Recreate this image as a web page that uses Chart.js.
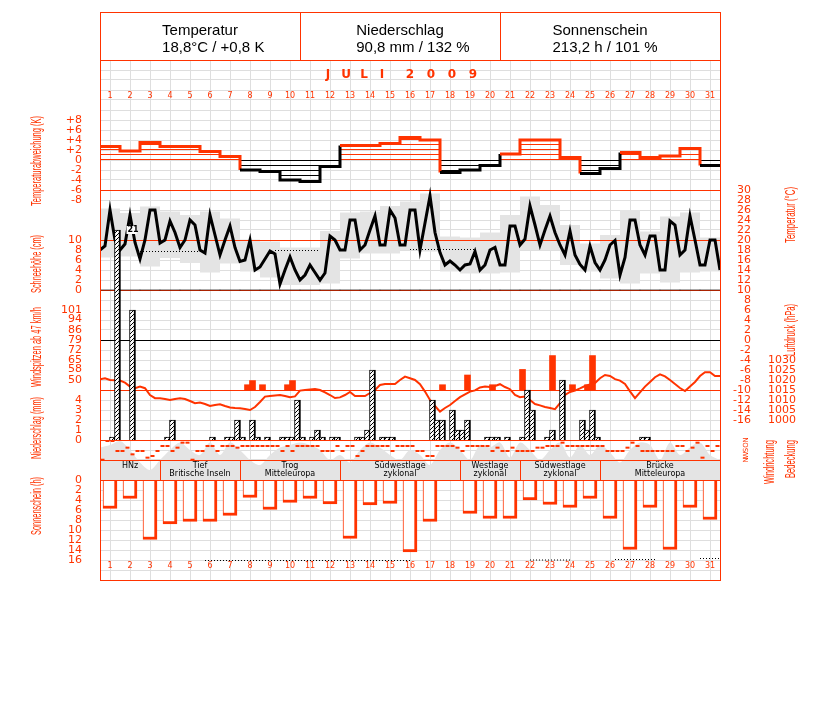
<!DOCTYPE html>
<html lang="de">
<head>
<meta charset="utf-8">
<title>Juli 2009</title>
<script src="https://cdn.jsdelivr.net/npm/chart.js@4.4.1/dist/chart.umd.min.js"></script>
<style>
  html, body { margin: 0; padding: 0; background: #fff; }
  canvas { display: block; }
</style>
</head>
<body>
<canvas id="chart" width="827" height="702"></canvas>
<script>
// Tage im Juli 2009
const days = [1, 2, 3, 4, 5, 6, 7, 8, 9, 10, 11, 12, 13, 14, 15, 16, 17, 18, 19, 20,
              21, 22, 23, 24, 25, 26, 27, 28, 29, 30, 31];

// Tagesabweichung der Temperatur (K)
const devK = [2.7, 1.8, 3.5, 2.7, 2.7, 1.7, 0.7, -2.0, -2.3, -4.0, -4.3, -1.3, 2.9, 2.9, 3.3, 4.5,
              4.0, -2.5, -2.0, -1.1, 1.2, 4.0, 4.0, 0.5, -2.7, -1.7, 1.5, 0.5, 0.8, 2.3, -1.1];

// Tagesmaximum / -minimum (grau hinterlegt)
const tMax = [26.3, 25.4, 26.7, 25.7, 25.0, 25.7, 24.3, 20.1, 19.7, 18.5, 18.5, 21.8, 25.5, 25.7, 26.8, 27.7,
              29.3, 20.7, 20.5, 21.5, 25.0, 28.7, 27.0, 23.0, 19.3, 21.0, 26.0, 21.7, 24.7, 25.5, 20.5];
const tMin = [16.5, 16.7, 14.7, 16.4, 15.4, 13.5, 15.3, 13.7, 12.5, 11.0, 11.0, 11.3, 16.3, 17.3, 17.3, 18.0,
              17.7, 13.7, 13.3, 13.3, 13.5, 18.0, 18.0, 15.0, 13.7, 12.3, 11.3, 13.3, 11.5, 13.5, 13.7];

// Temperatur alle 6 h (125 Termine, 1.7. 0 Uhr bis 1.8. 0 Uhr)
const tempC = [
  18, 18.8, 26, 20, 18, 19.2, 25, 19.5, 16.2, 20,
  26, 26, 19.4, 20, 23.8, 21.5, 18.5, 20, 24, 23,
  18, 17.4, 25, 21, 17, 20, 22.8, 18.5, 15.7, 16,
  20, 14, 14.6, 16.2, 17.8, 17.2, 11.2, 14, 16.6, 14,
  12, 13, 15, 13.5, 12, 13.4, 20.8, 20, 18, 18,
  24, 24, 18, 19, 22, 24.8, 19, 19, 26, 24.4,
  19, 19, 26, 26, 18, 23.4, 28.8, 21.5, 17.5, 15,
  15.8, 15, 14, 15, 15.2, 17.7, 14, 15, 18, 18.5,
  15, 15, 22.8, 22.8, 19, 20.2, 26.8, 23, 19, 22,
  24.8, 21.5, 19, 17, 21.8, 17, 15.1, 14, 18.8, 15.5,
  14, 16, 19, 19.9, 13, 16.5, 24, 24, 19, 17,
  20.8, 20.8, 14, 14, 23.8, 23, 17, 18, 24.8, 20,
  15, 15, 20, 20, 14
];

// Luftdruck alle 6 h (hPa)
const pressHpa = [
  1020.4, 1020.9, 1020, 1019.9, 1019.7, 1018.7, 1016.7, 1015.9, 1016.7, 1015.9,
  1012.5, 1010.9, 1010.9, 1010.5, 1010, 1010.5, 1010.9, 1010.5, 1009.5, 1008.4,
  1008.7, 1008, 1007, 1007.5, 1007.9, 1007, 1006.3, 1006, 1005.9, 1005.5,
  1005, 1006.5, 1009, 1011.7, 1012, 1012.3, 1012.5, 1012, 1011.4, 1011.8,
  1014.7, 1015, 1015.3, 1015.5, 1015, 1013.8, 1012.5, 1011, 1011.3, 1012.5,
  1014, 1012, 1012, 1012, 1013.5, 1015, 1017.5, 1018, 1018, 1018,
  1020, 1021.7, 1020.9, 1020, 1017.9, 1014.2, 1010, 1007, 1004.2, 1006,
  1007.5, 1009.5, 1011.4, 1012.8, 1014.2, 1014.8, 1016.3, 1016.7, 1016.5, 1017,
  1017.9, 1016.5, 1015.4, 1012.5, 1011.4, 1011.7, 1010, 1008, 1007.3, 1006.5,
  1006, 1005.4, 1008.4, 1012.5, 1014, 1014.7, 1015.8, 1017, 1017.8, 1018.5,
  1020.9, 1022.5, 1022, 1020.4, 1019.7, 1018, 1014.3, 1010.9, 1013.8, 1016.7,
  1019, 1021.4, 1022.8, 1021.8, 1020, 1018, 1016, 1014.5, 1016.8, 1019,
  1022, 1023.9, 1023.9, 1022, 1022
];

// Niederschlag in 6-h-Abschnitten: Abschnitt-Nr. und Menge (mm)
const precSlot = [2, 3, 6, 13, 14, 22, 25, 26, 27, 28, 30, 31, 33, 36, 37, 38, 39, 40, 42, 43, 44, 46, 47,
                  51, 52, 53, 54, 56, 57, 58, 66, 67, 68, 70, 71, 72, 73, 77, 78, 79, 81, 84, 85, 86,
                  89, 90, 92, 96, 97, 98, 99, 108, 109];
const precMm = [0.3, 21, 13, 0.3, 2, 0.3, 0.3, 0.3, 2, 0.3, 2, 0.3, 0.3, 0.3, 0.3, 0.3, 4, 0.3, 0.3, 1, 0.3, 0.3, 0.3,
                0.3, 0.3, 1, 7, 0.3, 0.3, 0.3, 4, 2, 2, 3, 1, 1, 2, 0.3, 0.3, 0.3, 0.3, 0.3, 5, 3,
                0.3, 1, 6, 2, 1, 3, 0.3, 0.3, 0.3];

// Windspitzen ab 47 km/h
const gustSlot = [29, 30, 32, 37, 38, 68, 73, 78, 84, 90, 94, 97, 98];
const gustKmh = [47, 50, 47, 47, 50, 47, 54, 47, 58, 68, 47, 47, 68];

// Sonnenscheindauer (h)
const sunH = [5.7, 3.7, 11.9, 8.8, 8.3, 8.3, 7.1, 3.5, 5.9, 4.5, 3.7, 4.8, 11.7, 5.0, 4.7, 14.4,
              8.3, 0, 6.7, 7.7, 7.7, 4.0, 4.9, 5.5, 3.7, 7.7, 13.9, 5.5, 13.9, 5.5, 7.9];

// Schneehoehe (cm)
const snowCm = [0, 0, 0, 0, 0, 0, 0, 0, 0, 0, 0, 0, 0, 0, 0, 0, 0, 0, 0, 0, 0, 0, 0, 0, 0, 0, 0, 0, 0, 0, 0];

// Bedeckung (Achtel) alle 12 h
const cloudOkta = [6.5, 7, 7.8, 6, 3.5, 2, 4, 6, 7.5, 6, 5, 7.5, 5, 7.5, 6, 4, 3, 5, 6.5, 7, 7.5, 7,
                   6, 4, 5, 3.5, 6, 7.5, 6.5, 5, 4, 6, 5, 3, 6, 7.5, 6, 4, 7, 6.5, 7.5, 4.5, 7.5, 6,
                   4, 6, 7.5, 4.5, 7, 5, 7, 5.5, 3.5, 6, 7.5, 7, 4, 7.5, 5, 6.5, 7.5, 5, 4];

// Windrichtung (Grad) alle 6 h
const windDir = [
  355, 18, 18, 198, 198, 138, 258, 198, 198, 318, 288, 198, 108, 108, 198, 138, 48, 48, 355, 198,
  198, 108, 108, 198, 108, 108, 108, 138, 108, 108, 108, 108, 108, 108, 108, 108, 198, 108, 198, 108,
  108, 108, 108, 108, 198, 198, 198, 108, 198, 108, 108, 288, 198, 108, 108, 108, 108, 108, 198, 108,
  108, 108, 108, 198, 198, 288, 288, 108, 108, 108, 108, 138, 198, 108, 108, 108, 108, 108, 198, 138,
  198, 198, 138, 198, 198, 198, 198, 138, 138, 108, 108, 108, 48, 108, 108, 108, 108, 108, 108, 108,
  108, 198, 198, 198, 198, 138, 48, 108, 198, 198, 198, 198, 198, 198, 198, 108, 108, 198, 138, 48,
  318, 108, 198, 108
];

// punktierte Linien (Abschnitt von/bis, Wert)
const tempDotFrom = [8, 35, 62], tempDotTo = [21, 44, 75], tempDotC = [17.7, 17.9, 18.1];
const sunDotFrom = [21, 86, 103, 120], sunDotTo = [62, 94, 111, 124], sunDotH = [16.1, 16.0, 15.9, 15.7];

// Grosswetterlagen (Tag von/bis)
const wtFrom = [0, 3, 7, 12, 18, 21, 25];
const wtTo = [3, 7, 12, 18, 21, 25, 31];
const wtText = ['HNz', 'Tief\nBritische Inseln', 'Trog\nMitteleuropa', 'Südwestlage\nzyklonal',
                'Westlage\nzyklonal', 'Südwestlage\nzyklonal', 'Brücke\nMitteleuropa'];

// Kopfzeile
const headTitle = ['Temperatur', 'Niederschlag', 'Sonnenschein'];
const headValue = ['18,8°C / +0,8 K', '90,8 mm / 132 %', '213,2 h / 101 %'];

// Achsbeschriftungen
const devTicks = [8, 6, 4, 2, 0, -2, -4, -6, -8];
const snowTicks = [10, 8, 6, 4, 2, 0];
const gustTicks = [101, 94, 86, 79, 72, 65, 58, 50];
const precTicks = [4, 3, 2, 1, 0];
const sunTicks = [0, 2, 4, 6, 8, 10, 12, 14, 16];
const tempTicks = [30, 28, 26, 24, 22, 20, 18, 16, 14, 12, 10, 8, 6, 4, 2, 0, -2, -4, -6, -8, -10, -12, -14, -16];
const pressTicks = [1030, 1025, 1020, 1015, 1010, 1005, 1000];
const dirTicks = [0, 90, 180, 270, 360], dirNames = ['N', 'O', 'S', 'W', 'N'];

const RED = '#ff3300';
const GRID = '#dedede';
const BAND = '#e4e4e4';

// Gitter: Tagesgrenzen und 10-px-Zeilen
const gridX = days.map(d => 4 * (d - 1)).concat([124]);
const gridY = Array.from({ length: 53 }, (_, i) => i);

function makePattern(w, h, draw) {
  const c = document.createElement('canvas');
  c.width = w; c.height = h;
  const g = c.getContext('2d');
  draw(g);
  return g.createPattern(c, 'repeat');
}
const redLines = makePattern(1, 5, g => { g.fillStyle = RED; g.fillRect(0, 4, 1, 1); });
const blackLines = makePattern(1, 5, g => { g.fillStyle = '#000'; g.fillRect(0, 0, 1, 1); });
const hatch = makePattern(4, 4, g => {
  g.fillStyle = '#fff'; g.fillRect(0, 0, 4, 4);
  g.fillStyle = '#000';
  g.fillRect(0, 3, 1, 1); g.fillRect(1, 2, 1, 1); g.fillRect(2, 1, 1, 1); g.fillRect(3, 0, 1, 1);
});

function segments(from, to, val) {
  const pts = [];
  from.forEach((f, i) => {
    if (i) pts.push({ x: f - 0.5, y: null });
    pts.push({ x: f, y: val[i] }, { x: to[i], y: val[i] });
  });
  return pts;
}

function vText(ctx, str, x, y, len) {
  ctx.save();
  ctx.translate(x, y);
  ctx.rotate(-Math.PI / 2);
  ctx.font = '15px "Liberation Sans Narrow", "Liberation Sans", sans-serif';
  const w = ctx.measureText(str).width;
  ctx.scale(len / w, 1);
  ctx.textAlign = 'center';
  ctx.textBaseline = 'middle';
  ctx.fillText(str, 0, 0);
  ctx.restore();
}

const decor = {
  id: 'decor',
  afterDatasetDraw(chart, args) {
    if (chart.data.datasets[args.index].label !== 'Bedeckung') return;
    const { ctx, chartArea: a, scales: s } = chart;
    const refs = [['yTemp', 30, RED], ['yTemp', 20, RED], ['yTemp', 10, RED], ['yTemp', 0, '#000'],
                  ['yPres', 1015, RED], ['yPrec', 0, RED], ['yWdir', 360, RED], ['ySun', 0, RED]];
    ctx.save();
    ctx.lineWidth = 1;
    refs.forEach(([id, v, c]) => {
      const y = Math.round(s[id].getPixelForValue(v)) + 0.5;
      ctx.strokeStyle = c;
      ctx.beginPath(); ctx.moveTo(a.left, y); ctx.lineTo(a.right, y); ctx.stroke();
    });
    ctx.restore();
  },
  afterDraw(chart) {
    const { ctx, chartArea: a, scales: s } = chart;
    const X = s.x;
    const top = 12;
    ctx.save();

    // Rahmen und Kopfzeile
    ctx.strokeStyle = RED; ctx.lineWidth = 1;
    ctx.strokeRect(a.left + 0.5, top + 0.5, a.right - a.left, a.bottom - top);
    ctx.beginPath(); ctx.moveTo(a.left, a.top + 0.5); ctx.lineTo(a.right, a.top + 0.5); ctx.stroke();
    [40, 80].forEach(v => {
      const x = Math.round(X.getPixelForValue(v)) + 0.5;
      ctx.beginPath(); ctx.moveTo(x, top); ctx.lineTo(x, a.top); ctx.stroke();
    });
    ctx.fillStyle = '#000';
    ctx.font = '15px "Liberation Sans", Arial, sans-serif';
    ctx.textBaseline = 'middle';
    ctx.textAlign = 'left';
    headTitle.forEach((t, i) => {
      const cx = X.getPixelForValue(40 * i + 20);
      const x0 = cx - ctx.measureText(t).width / 2;
      ctx.fillText(t, x0, 31);
      ctx.fillText(headValue[i], x0, 48);
    });

    // Monat
    ctx.fillStyle = RED;
    ctx.font = 'bold 12px "DejaVu Sans", sans-serif';
    ctx.textAlign = 'center';
    const month = 'JULI2009', monthX = [328, 346, 364, 382, 410, 431, 452, 473];
    month.split('').forEach((c, i) => ctx.fillText(c, monthX[i], 75));

    // Tageszahlen
    ctx.font = '8px "DejaVu Sans", sans-serif';
    days.forEach(d => {
      const x = X.getPixelForValue(4 * d - 2);
      ctx.fillText(String(d), x, 96);
      ctx.fillText(String(d), x, 566);
    });

    // Achsbeschriftungen links und rechts
    ctx.font = '11px "DejaVu Sans", sans-serif';
    const tick = (list, sc, x, fmt) => {
      list.forEach(v => ctx.fillText(fmt ? fmt(v) : String(v), x, s[sc].getPixelForValue(v)));
    };
    ctx.textAlign = 'right';
    tick(devTicks, 'yDev', 82, v => (v > 0 ? '+' : '') + v);
    tick(snowTicks, 'ySnow', 82);
    tick(gustTicks, 'yGust', 82);
    tick(precTicks, 'yPrec', 82);
    tick(sunTicks, 'ySun', 82);
    tick(tempTicks, 'yTemp', 751);
    tick(pressTicks, 'yPres', 796);

    ctx.font = '7px "DejaVu Sans", sans-serif';
    dirTicks.forEach((v, i) => {
      ctx.save();
      ctx.translate(746, s.yWdir.getPixelForValue(v));
      ctx.rotate(-Math.PI / 2);
      ctx.textAlign = 'center';
      ctx.fillText(dirNames[i], 0, 0);
      ctx.restore();
    });

    vText(ctx, 'Temperaturabweichung (K)', 37, 161, 90);
    vText(ctx, 'Schneehöhe (cm)', 37, 264, 58);
    vText(ctx, 'Windspitzen ab 47 km/h', 37, 347, 80);
    vText(ctx, 'Niederschlag (mm)', 37, 428, 62);
    vText(ctx, 'Sonnenschein (h)', 37, 506, 58);
    vText(ctx, 'Temperatur (°C)', 791, 215, 56);
    vText(ctx, 'Luftdruck (hPa)', 791, 330, 52);
    vText(ctx, 'Windrichtung', 770, 462, 44);
    vText(ctx, 'Bedeckung', 791, 459, 38);

    // Grosswetterlagen
    const y0 = s.yWdir.getPixelForValue(360), y1 = s.ySun.getPixelForValue(0);
    wtFrom.forEach((f, i) => {
      const x0 = X.getPixelForValue(4 * f), x1 = X.getPixelForValue(4 * wtTo[i]);
      ctx.strokeStyle = RED;
      ctx.strokeRect(Math.round(x0) + 0.5, Math.round(y0) + 0.5, x1 - x0, y1 - y0);
      ctx.fillStyle = '#000';
      ctx.font = '8px "DejaVu Sans", sans-serif';
      ctx.textAlign = 'center';
      const lines = wtText[i].split('\n');
      lines.forEach((t, j) => ctx.fillText(t, (x0 + x1) / 2, y0 + 5.5 + j * 8));
    });

    // Wert ueber abgeschnittenem Niederschlagsbalken
    ctx.font = 'bold 8px "DejaVu Sans", sans-serif';
    precMm.forEach((v, i) => {
      if (v < 20) return;
      const px = X.getPixelForValue(precSlot[i] + 0.5) + 9, py = s.yPrec.getPixelForValue(v);
      ctx.fillStyle = '#fff';
      ctx.fillRect(px, py - 4, 10, 8);
      ctx.fillStyle = '#000';
      ctx.textAlign = 'left';
      ctx.fillText(String(Math.round(v)), px + 1, py);
    });

    ctx.restore();
  }
};

const hidden = (min, max, extra) => Object.assign({ type: 'linear', display: false, min, max }, extra || {});

new Chart(document.getElementById('chart'), {
  type: 'line',
  data: {
    datasets: [
      {
        type: 'bar', label: 'Tmax/Tmin', yAxisID: 'yTemp', order: 10,
        data: days.map((d, i) => ({ x: 4 * d - 2, y: [tMin[i], tMax[i]] })),
        backgroundColor: BAND, barThickness: 20, grouped: false, inflateAmount: 0
      },
      {
        type: 'line', label: 'Bedeckung', yAxisID: 'yCloud', order: 9,
        data: cloudOkta.map((v, j) => ({ x: 2 * j, y: v })),
        fill: 'origin', backgroundColor: BAND, borderWidth: 0, pointRadius: 0, tension: 0.3
      },
      {
        type: 'bar', label: 'Schneehöhe', yAxisID: 'ySnow', order: 8,
        data: days.map((d, i) => ({ x: 4 * d - 2, y: snowCm[i] })),
        backgroundColor: '#000', barThickness: 20, grouped: false
      },
      {
        type: 'bar', label: 'Abweichung', yAxisID: 'yDev', order: 7,
        data: days.map((d, i) => ({ x: 4 * d - 2, y: devK[i] })),
        backgroundColor: c => (c.raw && c.raw.y < 0 ? blackLines : redLines),
        barThickness: 20, grouped: false, inflateAmount: 0
      },
      {
        type: 'line', label: 'Abweichung Stufe', yAxisID: 'yDev', order: 6,
        data: days.map((d, i) => ({ x: 4 * (d - 1), y: devK[i] })).concat([{ x: 124, y: devK[30] }]),
        stepped: true, borderWidth: 3, pointRadius: 0, borderColor: RED,
        segment: { borderColor: c => (c.p0.parsed.y < 0 ? '#000' : RED) }
      },
      {
        type: 'bar', label: 'Sonnenschein', yAxisID: 'ySun', order: 5,
        data: days.map((d, i) => ({ x: 4 * d - 2, y: sunH[i] })),
        backgroundColor: '#fff', borderColor: RED,
        borderWidth: { top: 0, left: 1, right: 3, bottom: 3 }, borderSkipped: false,
        barThickness: 14, grouped: false
      },
      {
        type: 'line', label: 'Sonne punktiert', yAxisID: 'ySun', order: 5,
        data: segments(sunDotFrom, sunDotTo, sunDotH),
        borderColor: '#000', borderWidth: 1, borderDash: [1, 2], pointRadius: 0
      },
      {
        type: 'line', label: 'Temperatur punktiert', yAxisID: 'yTemp', order: 5,
        data: segments(tempDotFrom, tempDotTo, tempDotC),
        borderColor: '#000', borderWidth: 1, borderDash: [1, 2], pointRadius: 0
      },
      {
        type: 'bar', label: 'Windspitzen', yAxisID: 'yGust', order: 4,
        data: gustSlot.map((k, i) => ({ x: k + 0.5, y: gustKmh[i] })),
        base: 43.2, backgroundColor: RED, barThickness: 6, grouped: false
      },
      {
        type: 'line', label: 'Luftdruck', yAxisID: 'yPres', order: 3,
        data: pressHpa.map((v, k) => ({ x: k, y: v })),
        borderColor: RED, borderWidth: 2, pointRadius: 0
      },
      {
        type: 'line', label: 'Temperatur', yAxisID: 'yTemp', order: 2,
        data: tempC.map((v, k) => ({ x: k, y: v })),
        borderColor: '#000', borderWidth: 3, pointRadius: 0
      },
      {
        type: 'bar', label: 'Niederschlag', yAxisID: 'yPrec', order: 1,
        data: precSlot.map((k, i) => ({ x: k + 0.5, y: precMm[i] })),
        backgroundColor: hatch, borderColor: '#000',
        borderWidth: { top: 1, left: 1, right: 2, bottom: 0 }, borderSkipped: false,
        barThickness: 6, grouped: false
      },
      {
        type: 'line', label: 'Windrichtung', yAxisID: 'yWdir', order: 0,
        data: windDir.map((v, k) => ({ x: k + 0.5, y: v })),
        showLine: false, pointStyle: 'line', pointRadius: 2, pointBorderWidth: 2,
        pointBorderColor: RED, pointBackgroundColor: RED
      }
    ]
  },
  options: {
    responsive: false,
    devicePixelRatio: 1,
    animation: false,
    events: [],
    layout: { padding: { left: 100, right: 107, top: 60, bottom: 122 } },
    plugins: { legend: { display: false }, tooltip: { enabled: false } },
    scales: {
      x: {
        type: 'linear', min: 0, max: 124, offset: false,
        border: { display: false }, ticks: { display: false },
        grid: { color: GRID, drawTicks: false },
        afterBuildTicks: sc => { sc.ticks = gridX.map(v => ({ value: v })); }
      },
      yGrid: {
        type: 'linear', position: 'left', min: 0, max: 52,
        border: { display: false }, ticks: { display: false },
        grid: { color: GRID, drawTicks: false },
        afterBuildTicks: sc => { sc.ticks = gridY.map(v => ({ value: v })); }
      },
      yTemp: hidden(-48, 56),
      yDev: hidden(-84, 20),
      ySnow: hidden(-58, 46),
      yGust: hidden(-93.6, 280.8),
      yPrec: hidden(-14, 38),
      yPres: hidden(920, 1180),
      yWdir: hidden(-6840, 2520, { reverse: true }),
      yCloud: hidden(-20, 84),
      ySun: hidden(-84, 20, { reverse: true })
    }
  },
  plugins: [decor]
});
</script>
</body>
</html>
